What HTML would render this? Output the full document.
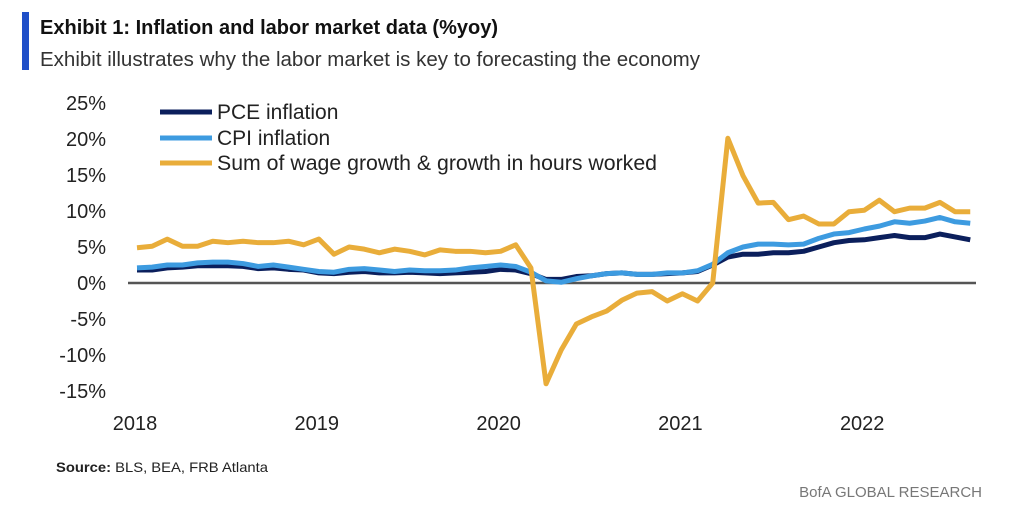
<!DOCTYPE html>
<html><head><meta charset="utf-8"><style>
body{margin:0;background:#fff;width:1009px;height:507px;overflow:hidden;font-family:"Liberation Sans",sans-serif;}
svg text{font-family:"Liberation Sans",sans-serif;}
</style></head><body>
<svg id="chart" width="1009" height="507">
<rect x="22" y="12" width="7" height="58" fill="#1f4fc8"/>
<text x="40" y="34" font-size="20" font-weight="bold" fill="#111" textLength="458" lengthAdjust="spacingAndGlyphs">Exhibit 1: Inflation and labor market data (%yoy)</text>
<text x="40" y="66" font-size="20" fill="#333" textLength="660" lengthAdjust="spacingAndGlyphs">Exhibit illustrates why the labor market is key to forecasting the economy</text>
<g id="yaxis"></g>
<g id="xaxis"></g>
<line x1="128" x2="976" id="zero" stroke="#555" stroke-width="2.5"/>
<g id="series"></g>
<g>
<g><line x1="160" x2="212" y1="112" y2="112" stroke="#0b1f5c" stroke-width="5"/><text x="217" y="119" font-size="21" fill="#222">PCE inflation</text></g>
<g><line x1="160" x2="212" y1="138" y2="138" stroke="#3d9be0" stroke-width="5"/><text x="217" y="145" font-size="21" fill="#222">CPI inflation</text></g>
<g><line x1="160" x2="212" y1="163" y2="163" stroke="#e9ad3a" stroke-width="5"/><text x="217" y="170" font-size="21" fill="#222" textLength="440" lengthAdjust="spacingAndGlyphs">Sum of wage growth &amp; growth in hours worked</text></g>
</g>
<text x="56" y="472" font-size="14" fill="#222" textLength="212" lengthAdjust="spacingAndGlyphs"><tspan font-weight="bold">Source:</tspan> BLS, BEA,  FRB Atlanta</text>
<text x="982" y="497" font-size="15" fill="#777" text-anchor="end">BofA GLOBAL RESEARCH</text>
</svg>
<script>
const yTicks=[25,20,15,10,5,0,-5,-10,-15];
const yearLabels=["2018","2019","2020","2021","2022"];
const wage=[4.9,5.1,6.1,5.1,5.1,5.8,5.6,5.8,5.6,5.6,5.8,5.3,6.1,4.0,5.0,4.7,4.2,4.7,4.4,3.9,4.6,4.4,4.4,4.2,4.4,5.3,2.1,-14,-9.3,-5.7,-4.7,-3.9,-2.4,-1.4,-1.2,-2.5,-1.5,-2.5,0,20.1,14.9,11.1,11.2,8.8,9.3,8.2,8.2,9.9,10.1,11.5,9.9,10.4,10.4,11.2,9.9,9.9];
const cpi=[2.1,2.2,2.5,2.5,2.8,2.9,2.9,2.7,2.3,2.5,2.2,1.9,1.6,1.5,1.9,2.0,1.8,1.6,1.8,1.7,1.7,1.8,2.1,2.3,2.5,2.3,1.5,0.3,0.1,0.6,1.0,1.3,1.4,1.2,1.2,1.4,1.4,1.7,2.6,4.2,5.0,5.4,5.4,5.3,5.4,6.2,6.8,7.0,7.5,7.9,8.5,8.3,8.6,9.1,8.5,8.3];
const pce=[1.8,1.8,2.1,2.2,2.4,2.4,2.4,2.3,2.0,2.1,1.9,1.8,1.4,1.3,1.5,1.6,1.4,1.4,1.5,1.4,1.3,1.4,1.5,1.6,1.9,1.8,1.3,0.5,0.5,0.9,1.0,1.3,1.4,1.2,1.2,1.3,1.4,1.6,2.5,3.6,4.0,4.0,4.2,4.2,4.4,5.0,5.6,5.9,6.0,6.3,6.6,6.3,6.3,6.8,6.4,6.0];
const NS="http://www.w3.org/2000/svg";
const y=v=>283-v*7.2;
const x=i=>137+i*15.15;
const ya=document.getElementById('yaxis');
yTicks.forEach(t=>{const e=document.createElementNS(NS,'text');


e.setAttribute('x',106);e.setAttribute('y',y(t)+7);e.setAttribute('text-anchor','end');e.setAttribute('font-size','20');e.setAttribute('fill','#222');e.textContent=t+'%';ya.appendChild(e);});
const xa=document.getElementById('xaxis');
yearLabels.forEach((l,k)=>{const e=document.createElementNS(NS,'text');


e.setAttribute('x',x(k*12)-2);e.setAttribute('y',430);e.setAttribute('text-anchor','middle');e.setAttribute('font-size','20');e.setAttribute('fill','#222');e.textContent=l;xa.appendChild(e);});
const z=document.getElementById('zero');z.setAttribute('y1',y(0));z.setAttribute('y2',y(0));
const sg=document.getElementById('series');
function line(d,c,n){const p=document.createElementNS(NS,'polyline');


p.setAttribute('points',d.map((v,i)=>x(i)+','+y(v)).join(' '));p.setAttribute('fill','none');p.setAttribute('stroke',c);p.setAttribute('stroke-width','5');p.setAttribute('stroke-linejoin','round');sg.appendChild(p);}
line(pce,'#0b1f5c','pce-line');
line(cpi,'#3d9be0','cpi-line');
line(wage,'#e9ad3a','wage-hours-line');
</script>
</body></html>
